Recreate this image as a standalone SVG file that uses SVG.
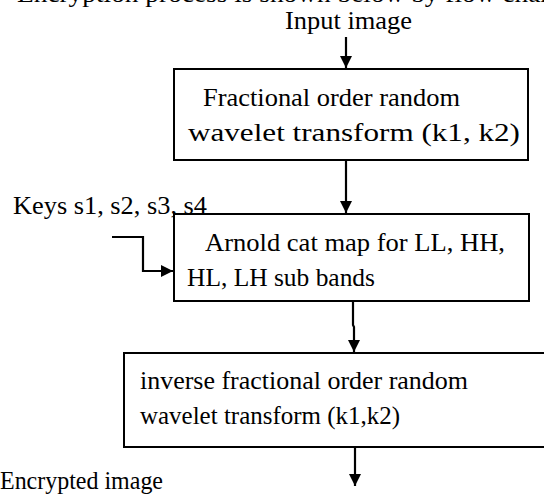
<svg xmlns="http://www.w3.org/2000/svg" width="544" height="496" viewBox="0 0 544 496">
  <style>
    text { font-family: "Liberation Serif", "Times New Roman", serif; font-size: 26px; fill: #000; }
    .box { fill: #fff; stroke: #000; stroke-width: 2; }
    .conn { fill: none; stroke: #000; stroke-width: 2.2; }
  </style>
  <defs>
    <marker id="head" viewBox="0 0 12 12" refX="12" refY="6" markerWidth="12" markerHeight="13" markerUnits="userSpaceOnUse" orient="auto">
      <path d="M0,0 L12,6 L0,12 Z" fill="#000"/>
    </marker>
  </defs>
  <rect width="544" height="496" fill="#fff"/>

  <!-- heading line running off the top edge -->
  <text x="17" y="2" textLength="540" lengthAdjust="spacingAndGlyphs">Encryption process is shown below by flow chart</text>

  <g id="connectors">
    <path class="conn" d="M346,37 V68" marker-end="url(#head)"/>
    <path class="conn" d="M346,160 V213" marker-end="url(#head)"/>
    <path class="conn" d="M112,237 H143 V271 H173" marker-end="url(#head)"/>
    <path class="conn" d="M353,301 V325 L354,327 V352" marker-end="url(#head)"/>
    <path class="conn" d="M355,447 V486" marker-end="url(#head)"/>
  </g>

  <g id="input">
    <text x="285" y="29" textLength="127" lengthAdjust="spacingAndGlyphs">Input image</text>
  </g>

  <g id="forward-transform">
    <rect class="box" x="174" y="69" width="354" height="91"/>
    <text x="203" y="106" textLength="257" lengthAdjust="spacingAndGlyphs">Fractional order random</text>
    <text x="188" y="141" textLength="332" lengthAdjust="spacingAndGlyphs">wavelet transform (k1, k2)</text>
  </g>

  <g id="keys">
    <text x="13" y="214" textLength="194" lengthAdjust="spacingAndGlyphs">Keys s1, s2, s3, s4</text>
  </g>

  <g id="arnold">
    <rect class="box" x="174" y="214" width="355" height="87"/>
    <text x="205" y="251" textLength="300" lengthAdjust="spacingAndGlyphs">Arnold cat map for LL, HH,</text>
    <text x="187" y="286" textLength="188" lengthAdjust="spacingAndGlyphs">HL, LH sub bands</text>
  </g>

  <g id="inverse-transform">
    <rect class="box" x="124" y="353" width="424" height="94"/>
    <text x="140" y="389" textLength="328" lengthAdjust="spacingAndGlyphs">inverse fractional  order random</text>
    <text x="140" y="424" textLength="260" lengthAdjust="spacingAndGlyphs">wavelet transform (k1,k2)</text>
  </g>

  <g id="output">
    <text x="0" y="489" textLength="163" lengthAdjust="spacingAndGlyphs">Encrypted image</text>
  </g>
</svg>
